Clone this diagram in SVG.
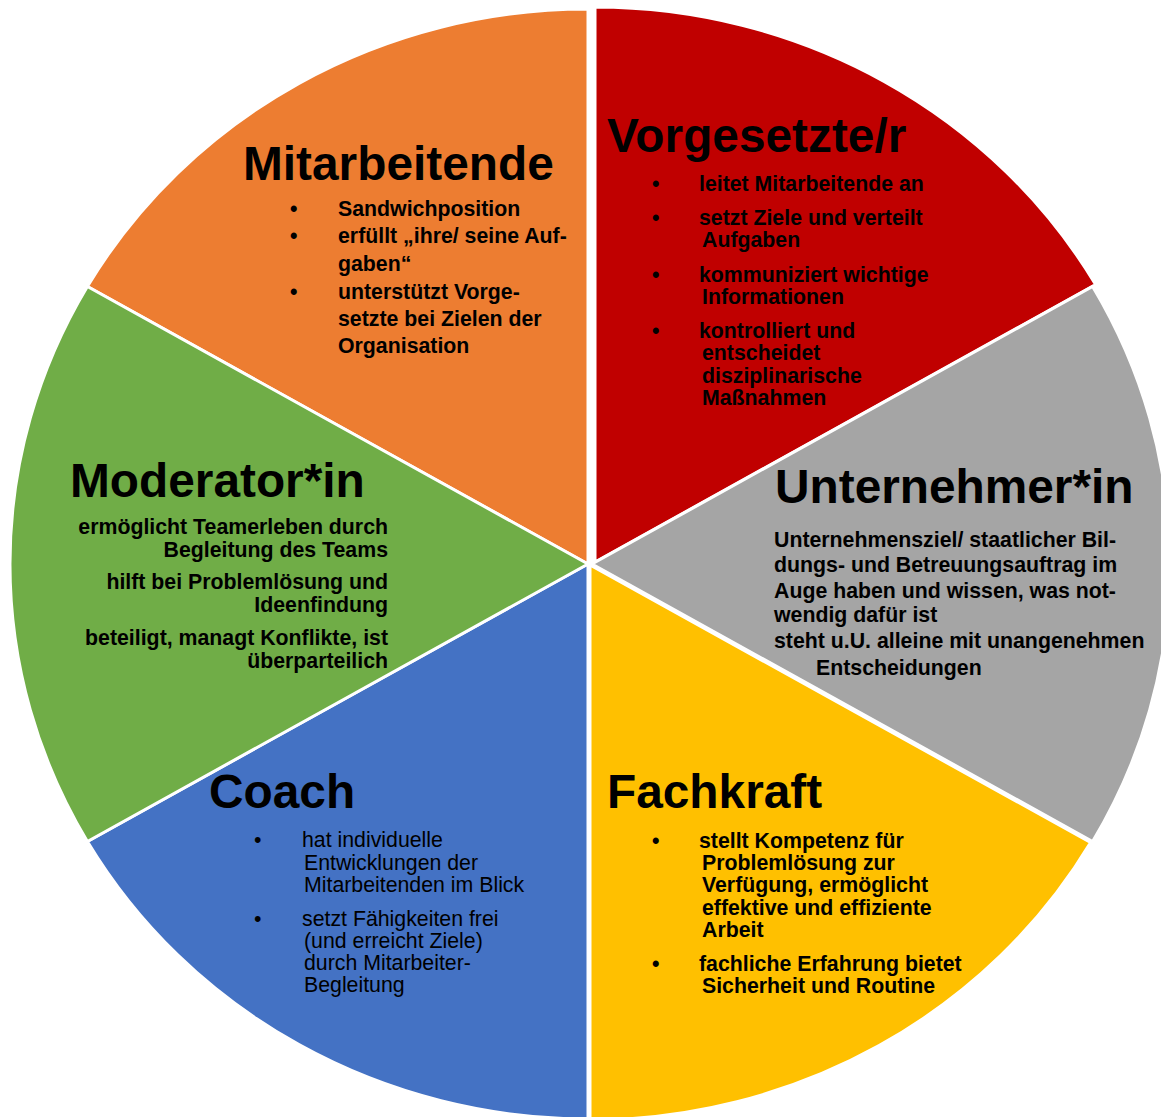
<svg xmlns="http://www.w3.org/2000/svg" width="1161" height="1117" viewBox="0 0 1161 1117">
<style>
.sl{stroke:#fff;stroke-width:3}
.t{font-family:"Liberation Sans",Arial,sans-serif;font-weight:bold;font-size:47.8px;fill:#000}
.b{font-family:"Liberation Sans",Arial,sans-serif;font-weight:bold;font-size:21.3px;fill:#000}
.r{font-family:"Liberation Sans",Arial,sans-serif;font-weight:normal;font-size:21.3px;fill:#000}
</style>
<rect width="1161" height="1117" fill="#fff"/>
<g id="mitarbeitende">
<path class="sl" fill="#ED7D31" d="M588,564 L87.4,286.5 A578,555 0 0,1 588,9 Z"/>
<text class="t" x="243" y="180">Mitarbeitende</text>
<text class="b" x="290" y="216">•</text><text class="b" x="338" y="216">Sandwichposition</text>
<text class="b" x="290" y="243">•</text><text class="b" x="338" y="243">erfüllt „ihre/ seine Auf-</text>
<text class="b" x="338" y="271">gaben“</text>
<text class="b" x="290" y="299">•</text><text class="b" x="338" y="299">unterstützt Vorge-</text>
<text class="b" x="338" y="326">setzte bei Zielen der</text>
<text class="b" x="338" y="353">Organisation</text>
</g>
<g id="vorgesetzte">
<path class="sl" fill="#C00000" transform="translate(7,-2)" d="M588,564 L588,9 A578,555 0 0,1 1088.6,286.5 Z"/>
<text class="t" x="607" y="152">Vorgesetzte/r</text>
<text class="b" x="652" y="191">•</text><text class="b" x="699" y="191">leitet Mitarbeitende an</text>
<text class="b" x="652" y="225">•</text><text class="b" x="699" y="225">setzt Ziele und verteilt</text>
<text class="b" x="702" y="247">Aufgaben</text>
<text class="b" x="652" y="282">•</text><text class="b" x="699" y="282">kommuniziert wichtige</text>
<text class="b" x="702" y="304">Informationen</text>
<text class="b" x="652" y="338">•</text><text class="b" x="699" y="338">kontrolliert und</text>
<text class="b" x="702" y="360">entscheidet</text>
<text class="b" x="702" y="383">disziplinarische</text>
<text class="b" x="702" y="405">Maßnahmen</text>
</g>
<g id="unternehmer">
<path class="sl" fill="#A5A5A5" transform="translate(4,0)" d="M588,564 L1088.6,286.5 A578,555 0 0,1 1088.6,841.5 Z"/>
<text class="t" x="775" y="503">Unternehmer*in</text>
<text class="b" x="774" y="547">Unternehmensziel/ staatlicher Bil-</text>
<text class="b" x="774" y="572">dungs- und Betreuungsauftrag im</text>
<text class="b" x="774" y="598">Auge haben und wissen, was not-</text>
<text class="b" x="774" y="622">wendig dafür ist</text>
<text class="b" x="774" y="648">steht u.U. alleine mit unangenehmen</text>
<text class="b" x="816" y="675">Entscheidungen</text>
</g>
<g id="fachkraft">
<path class="sl" fill="#FFC000" transform="translate(2,1)" d="M588,564 L1088.6,841.5 A578,555 0 0,1 588,1119 Z"/>
<text class="t" x="607" y="808">Fachkraft</text>
<text class="b" x="652" y="848">•</text><text class="b" x="699" y="848">stellt Kompetenz für</text>
<text class="b" x="702" y="870">Problemlösung zur</text>
<text class="b" x="702" y="892">Verfügung, ermöglicht</text>
<text class="b" x="702" y="915">effektive und effiziente</text>
<text class="b" x="702" y="937">Arbeit</text>
<text class="b" x="652" y="971">•</text><text class="b" x="699" y="971">fachliche Erfahrung bietet</text>
<text class="b" x="702" y="993">Sicherheit und Routine</text>
</g>
<g id="coach">
<path class="sl" fill="#4472C4" d="M588,564 L588,1119 A578,555 0 0,1 87.4,841.5 Z"/>
<text class="t" x="209" y="808">Coach</text>
<text class="r" x="254" y="847">•</text><text class="r" x="302" y="847">hat individuelle</text>
<text class="r" x="304" y="870">Entwicklungen der</text>
<text class="r" x="304" y="892">Mitarbeitenden im Blick</text>
<text class="r" x="254" y="926">•</text><text class="r" x="302" y="926">setzt Fähigkeiten frei</text>
<text class="r" x="304" y="948">(und erreicht Ziele)</text>
<text class="r" x="304" y="970">durch Mitarbeiter-</text>
<text class="r" x="304" y="992">Begleitung</text>
</g>
<g id="moderator">
<path class="sl" fill="#70AD47" d="M588,564 L87.4,841.5 A578,555 0 0,1 87.4,286.5 Z"/>
<text class="t" x="70" y="497">Moderator*in</text>
<g text-anchor="end">
<text class="b" x="388" y="534">ermöglicht Teamerleben durch</text>
<text class="b" x="388" y="557">Begleitung des Teams</text>
<text class="b" x="388" y="589">hilft bei Problemlösung und</text>
<text class="b" x="388" y="612">Ideenfindung</text>
<text class="b" x="388" y="645">beteiligt, managt Konflikte, ist</text>
<text class="b" x="388" y="668">überparteilich</text>
</g>
</g>
</svg>
